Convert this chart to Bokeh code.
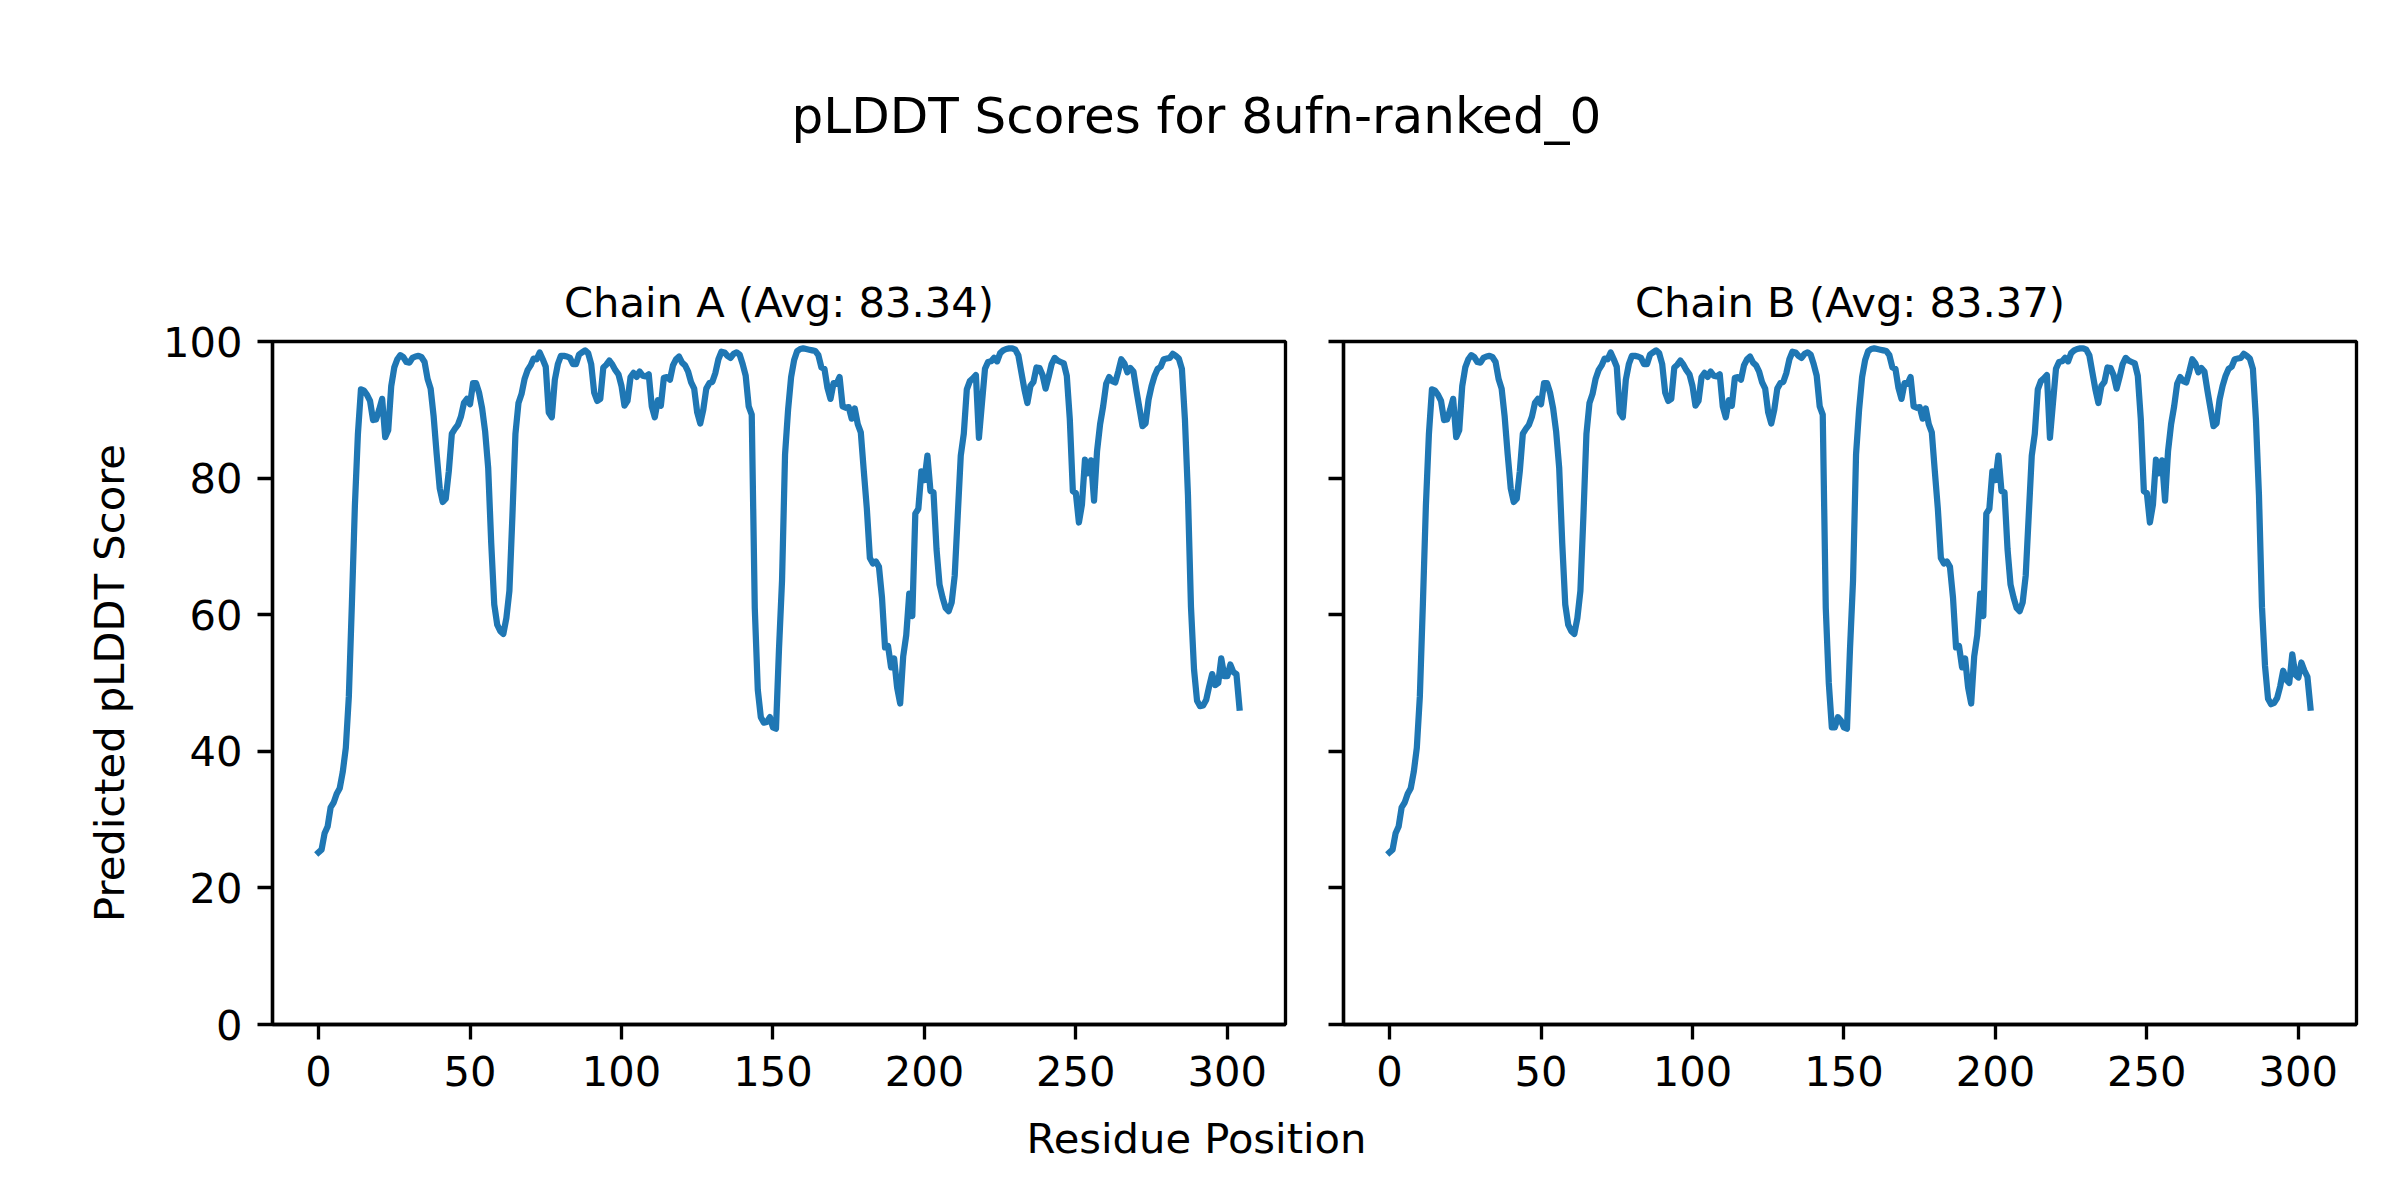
from bokeh.plotting import figure
from bokeh.layouts import column, row
from bokeh.models import Range1d, FixedTicker, Label
from bokeh.embed import file_html
from bokeh.resources import INLINE

FONT = "DejaVu Sans"

suptitle = "pLDDT Scores for 8ufn-ranked_0"
x_label = "Residue Position"
y_label = "Predicted pLDDT Score"
chain_titles = ["Chain A (Avg: 83.34)", "Chain B (Avg: 83.37)"]
x_ticks = [0, 50, 100, 150, 200, 250, 300]
y_ticks = [0, 20, 40, 60, 80, 100]

residues = list(range(305))

plddt_a = [
    25.2, 25.6, 28.0, 29.0, 31.8, 32.5, 33.8, 34.6, 37.0, 40.5,
    48.0, 61.5, 76.0, 86.5, 93.0, 92.8, 92.2, 91.3, 88.5, 88.6,
    90.0, 91.6, 86.0, 87.0, 93.5, 96.2, 97.4, 98.0, 97.7, 97.0,
    96.9, 97.6, 97.8, 97.9, 97.7, 97.0, 94.5, 93.1, 89.0, 83.5,
    78.5, 76.5, 77.0, 81.0, 86.5, 87.2, 87.8, 89.0, 91.0, 91.6,
    90.8, 93.9, 93.9, 92.5, 90.2, 86.8, 81.5, 70.5, 61.5, 58.5,
    57.6, 57.2, 59.5, 63.5, 74.5, 86.5, 91.0, 92.3, 94.5, 95.8,
    96.5, 97.5, 97.4, 98.4, 97.4, 96.3, 89.6, 88.9, 94.4, 96.7,
    97.9, 97.9, 97.8, 97.6, 96.7, 96.7, 98.1, 98.4, 98.7, 98.3,
    96.7, 92.5, 91.3, 91.6, 96.2, 96.6, 97.2, 96.6, 95.8, 95.2,
    93.5, 90.6, 91.3, 94.8, 95.4, 94.8, 95.6, 95.0, 94.9, 95.2,
    90.5, 88.9, 91.4, 90.6, 94.7, 94.8, 94.4, 96.5, 97.4, 97.8,
    96.9, 96.5, 95.6, 94.0, 93.1, 89.6, 88.0, 90.0, 93.1, 93.9,
    94.1, 95.4, 97.4, 98.5, 98.4, 97.9, 97.6, 98.2, 98.4, 98.1,
    96.7, 95.0, 90.5, 89.3, 61.0, 49.0, 45.0, 44.2, 44.3, 45.0,
    43.5, 43.3, 55.0, 65.0, 83.5, 90.0, 94.8, 97.3, 98.6, 98.9,
    99.0, 98.9, 98.8, 98.7, 98.6, 98.0, 96.2, 96.0, 93.2, 91.6,
    93.9, 93.8, 94.8, 90.5, 90.3, 90.4, 88.7, 90.2, 87.9, 86.7,
    81.0, 75.5, 68.3, 67.5, 67.8, 67.0, 62.5, 55.2, 55.4, 52.3,
    53.6, 49.3, 47.0, 53.9, 57.0, 63.1, 59.8, 74.8, 75.5, 81.0,
    79.7, 83.3, 78.1, 77.9, 69.6, 64.4, 62.5, 61.0, 60.5, 61.8,
    65.7, 74.5, 83.3, 86.5, 93.0, 94.2, 94.6, 95.1, 85.9, 91.0,
    96.0, 97.0, 97.1, 97.6, 97.1, 98.3, 98.7, 98.9, 99.0, 99.0,
    98.8, 98.0, 95.5, 93.0, 91.0, 93.5, 94.1, 96.2, 96.1, 95.1,
    93.1, 94.8, 96.7, 97.6, 97.2, 97.0, 96.8, 95.0, 88.6, 78.1,
    77.8, 73.5, 76.1, 82.7, 80.7, 82.6, 76.7, 84.0, 87.9, 90.5,
    93.8, 94.8, 94.2, 94.0, 95.6, 97.4, 96.8, 95.5, 96.1, 95.6,
    92.8, 90.2, 87.6, 88.0, 91.5, 93.5, 95.0, 96.0, 96.3, 97.4,
    97.5, 97.6, 98.2, 97.9, 97.5, 96.0, 88.6, 77.5, 61.1, 52.0,
    47.4, 46.6, 46.7, 47.5, 49.5, 51.3, 49.7, 50.0, 53.6, 51.0,
    51.0, 52.7, 51.6, 51.3, 46.4,
]

plddt_b = [
    25.2, 25.6, 28.0, 29.0, 31.8, 32.5, 33.8, 34.6, 37.0, 40.5,
    48.0, 61.5, 76.0, 86.5, 93.0, 92.8, 92.2, 91.3, 88.5, 88.6,
    90.0, 91.6, 86.0, 87.0, 93.5, 96.2, 97.4, 98.0, 97.7, 97.0,
    96.9, 97.6, 97.8, 97.9, 97.7, 97.0, 94.5, 93.1, 89.0, 83.5,
    78.5, 76.5, 77.0, 81.0, 86.5, 87.2, 87.8, 89.0, 91.0, 91.6,
    90.8, 93.9, 93.9, 92.5, 90.2, 86.8, 81.5, 70.5, 61.5, 58.5,
    57.6, 57.2, 59.5, 63.5, 74.5, 86.5, 91.0, 92.3, 94.5, 95.8,
    96.5, 97.5, 97.4, 98.4, 97.4, 96.3, 89.6, 88.9, 94.4, 96.7,
    97.9, 97.9, 97.8, 97.6, 96.7, 96.7, 98.1, 98.4, 98.7, 98.3,
    96.7, 92.5, 91.3, 91.6, 96.2, 96.6, 97.2, 96.6, 95.8, 95.2,
    93.5, 90.6, 91.3, 94.8, 95.4, 94.8, 95.6, 95.0, 94.9, 95.2,
    90.5, 88.9, 91.4, 90.6, 94.7, 94.8, 94.4, 96.5, 97.4, 97.8,
    96.9, 96.5, 95.6, 94.0, 93.1, 89.6, 88.0, 90.0, 93.1, 93.9,
    94.1, 95.4, 97.4, 98.5, 98.4, 97.9, 97.6, 98.2, 98.4, 98.1,
    96.7, 95.0, 90.5, 89.3, 61.0, 50.0, 43.5, 43.5, 45.0, 44.5,
    43.5, 43.3, 55.0, 65.0, 83.5, 90.0, 94.8, 97.3, 98.6, 98.9,
    99.0, 98.9, 98.8, 98.7, 98.6, 98.0, 96.2, 96.0, 93.2, 91.6,
    93.9, 93.8, 94.8, 90.5, 90.3, 90.4, 88.7, 90.2, 87.9, 86.7,
    81.0, 75.5, 68.3, 67.5, 67.8, 67.0, 62.5, 55.2, 55.4, 52.3,
    53.6, 49.3, 47.0, 53.9, 57.0, 63.1, 59.8, 74.8, 75.5, 81.0,
    79.7, 83.3, 78.1, 77.9, 69.6, 64.4, 62.5, 61.0, 60.5, 61.8,
    65.7, 74.5, 83.3, 86.5, 93.0, 94.2, 94.6, 95.1, 85.9, 91.0,
    96.0, 97.0, 97.1, 97.6, 97.1, 98.3, 98.7, 98.9, 99.0, 99.0,
    98.8, 98.0, 95.5, 93.0, 91.0, 93.5, 94.1, 96.2, 96.1, 95.1,
    93.1, 94.8, 96.7, 97.6, 97.2, 97.0, 96.8, 95.0, 88.6, 78.1,
    77.8, 73.5, 76.1, 82.7, 80.7, 82.6, 76.7, 84.0, 87.9, 90.5,
    93.8, 94.8, 94.2, 94.0, 95.6, 97.4, 96.8, 95.5, 96.1, 95.6,
    92.8, 90.2, 87.6, 88.0, 91.5, 93.5, 95.0, 96.0, 96.3, 97.4,
    97.5, 97.6, 98.2, 97.9, 97.5, 96.0, 88.6, 77.5, 61.1, 52.5,
    47.7, 46.9, 47.1, 47.8, 49.5, 51.8, 50.5, 50.0, 54.2, 51.2,
    50.8, 53.0, 51.8, 50.9, 46.4,
]

LINE_COLOR = "#1f77b4"
TICK_PX = "41.67px"
SPINE_W = 3.33

TOTAL_W = 2392
TOTAL_H = 1196
TOP_H = 200
FRAME_W = 1013
FRAME_H = 683
MB_TOP = 141
MB_BOTTOM = 80
BOTTOM_H = TOTAL_H - TOP_H - (MB_TOP + FRAME_H + MB_BOTTOM)


def text_strip(height, text, size, baseline_from_bottom):
    p = figure(width=TOTAL_W, height=height, x_range=Range1d(0, 1), y_range=Range1d(0, 1),
               x_axis_type=None, y_axis_type=None, min_border=0,
               output_backend="svg", toolbar_location=None)
    p.grid.visible = False
    p.outline_line_color = None
    p.add_layout(Label(x=0.5, y=baseline_from_bottom, y_units="screen", text=text,
                       text_align="center", text_baseline="alphabetic",
                       text_font=FONT, text_font_size=size, text_color="black"))
    return p


def panel(values, title, left_border, right_border, show_labels):
    p = figure(frame_width=FRAME_W, frame_height=FRAME_H,
               min_border_left=left_border, min_border_right=right_border,
               min_border_top=MB_TOP, min_border_bottom=MB_BOTTOM,
               x_range=Range1d(-15.2, 319.2), y_range=Range1d(0, 100),
               output_backend="svg", toolbar_location=None, title=title)
    p.line(residues, values, line_color=LINE_COLOR, line_width=6.25,
           line_join="round", line_cap="square")
    p.title.text_font = FONT
    p.title.text_font_size = TICK_PX
    p.title.text_font_style = "normal"
    p.title.text_color = "black"
    p.title.align = "center"
    p.title.standoff = 29
    p.xgrid.visible = False
    p.ygrid.visible = False
    p.outline_line_color = "black"
    p.outline_line_width = SPINE_W
    for ax in (p.xaxis[0], p.yaxis[0]):
        ax.axis_line_color = "black"
        ax.axis_line_width = SPINE_W
        ax.major_tick_line_color = "black"
        ax.major_tick_line_width = SPINE_W
        ax.major_tick_out = 15
        ax.major_tick_in = 0
        ax.minor_tick_out = 0
        ax.minor_tick_in = 0
        ax.major_label_text_font = FONT
        ax.major_label_text_font_size = TICK_PX
        ax.major_label_text_color = "black"
    p.xaxis[0].major_label_standoff = 16
    p.yaxis[0].major_label_standoff = 15
    p.xaxis[0].ticker = FixedTicker(ticks=x_ticks)
    p.yaxis[0].ticker = FixedTicker(ticks=y_ticks)
    if show_labels:
        p.yaxis[0].axis_label = y_label
        p.yaxis[0].axis_label_text_font = FONT
        p.yaxis[0].axis_label_text_font_size = TICK_PX
        p.yaxis[0].axis_label_text_font_style = "normal"
        p.yaxis[0].axis_label_text_color = "black"
        p.yaxis[0].axis_label_standoff = 26
    else:
        p.yaxis[0].major_label_overrides = {t: "" for t in y_ticks}
        p.yaxis[0].major_label_standoff = 0
    return p


top = text_strip(TOP_H, suptitle, "50px", 85)
pa = panel(plddt_a, chain_titles[0], 272, 29, True)
pb = panel(plddt_b, chain_titles[1], 29, TOTAL_W - 272 - FRAME_W - 29 - 29 - FRAME_W, False)
bottom = text_strip(BOTTOM_H, x_label, TICK_PX, 58)

layout = column(top, row(pa, pb), bottom)

open("out.html", "w").write(file_html(layout, INLINE))
